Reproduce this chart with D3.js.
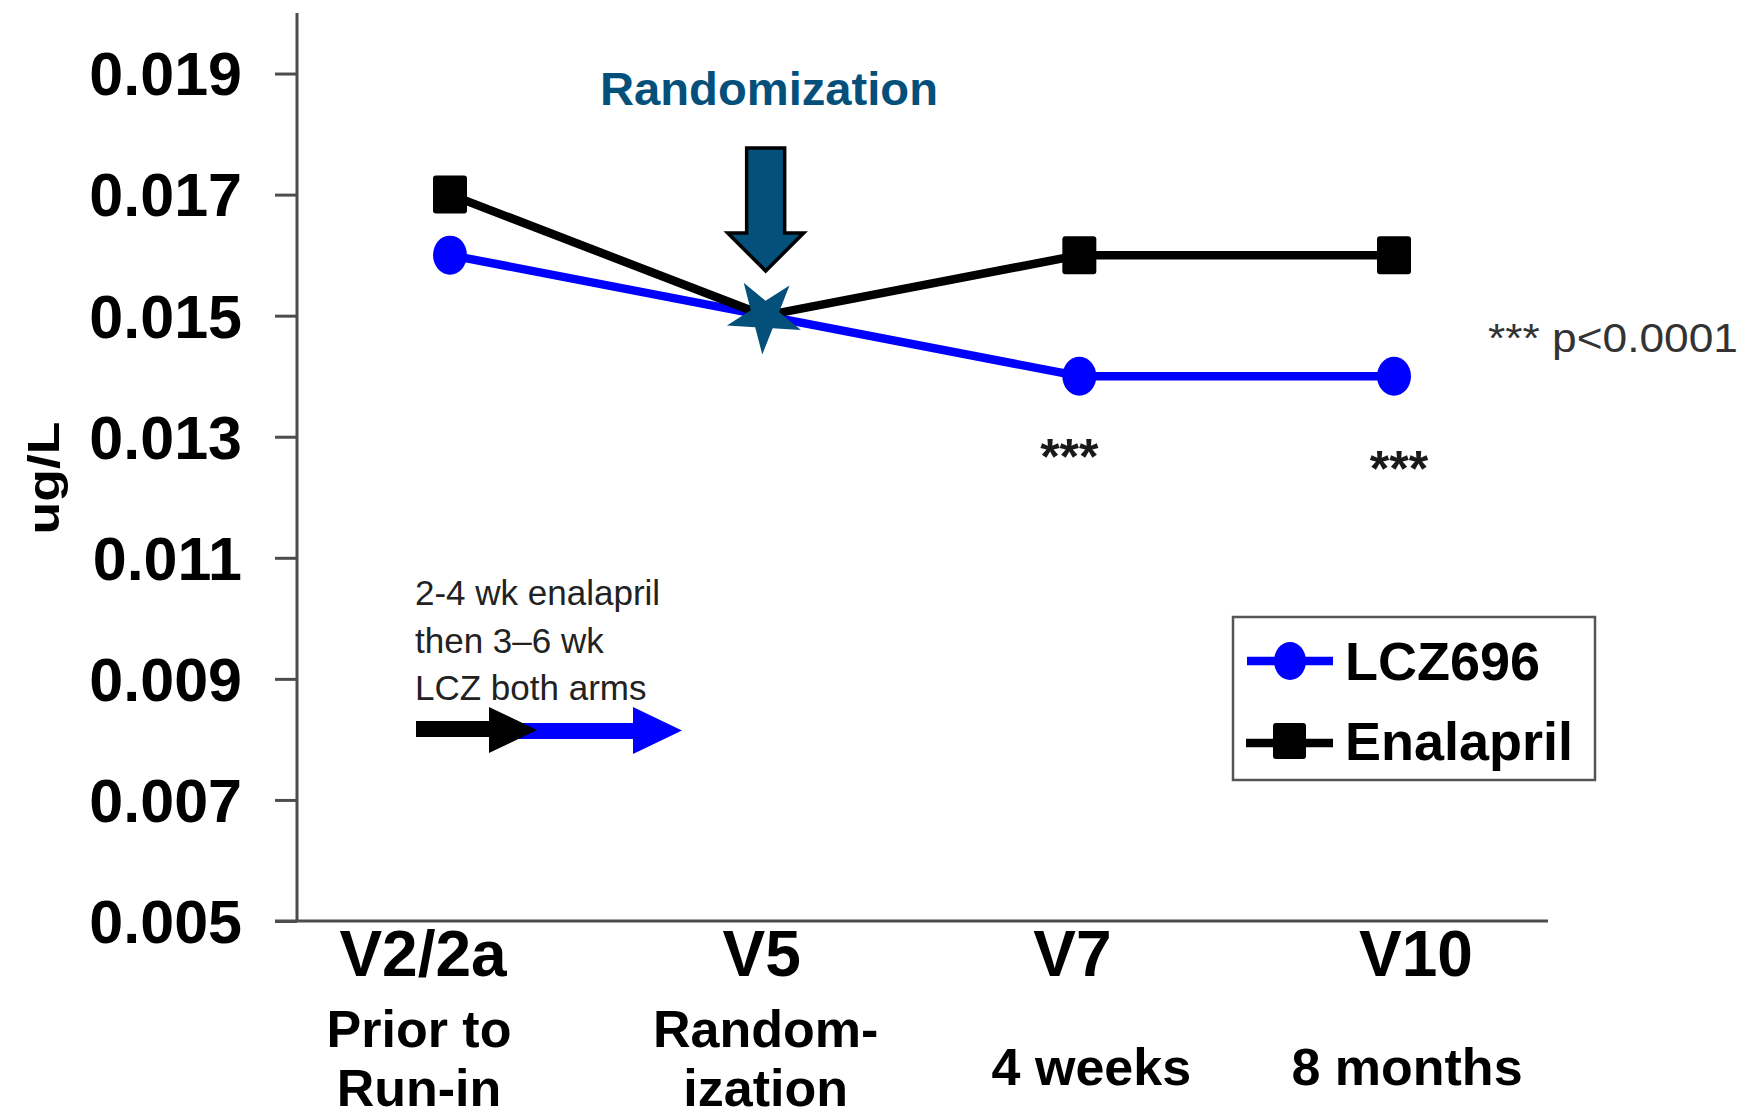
<!DOCTYPE html>
<html>
<head>
<meta charset="utf-8">
<script src="https://cdn.jsdelivr.net/npm/d3@7"></script>
<style>
  html, body { margin: 0; padding: 0; background: #fff; }
  svg { display: block; }
  text { font-family: "Liberation Sans", Arial, Helvetica, sans-serif; }
</style>
</head>
<body>
<svg id="chart" width="1761" height="1117"></svg>
<script>
// Visits along the study timeline
const visits = ["V2/2a", "V5", "V7", "V10"];
const visitNotes = [["Prior to", "Run-in"], ["Random-", "ization"], ["4 weeks"], ["8 months"]];

// Mean concentration (ug/L) per arm
const lcz696 = [0.016, 0.015, 0.014, 0.014];
const enalapril = [0.017, 0.015, 0.016, 0.016];

// Significance marks for LCZ696 vs enalapril
const significance = ["", "", "***", "***"];

// Y axis ticks
const yTicks = [0.005, 0.007, 0.009, 0.011, 0.013, 0.015, 0.017, 0.019];

const seriesNames = ["LCZ696", "Enalapril"];
const runInNote = ["2-4 wk enalapril", "then 3\u20136 wk", "LCZ both arms"];

const svg = d3.select("#chart");
const AXIS = "#4d4d4d";
const BLUE = "#0000ff";
const TEAL = "#04507a";

const x = d3.scalePoint().domain(visits).range([450, 1394]);
const y = d3.scaleLinear().domain([0.005, 0.020]).range([921, 13]);

// ---- axes ----
const yAxis = d3.axisLeft(y)
  .tickValues(yTicks)
  .tickFormat(d3.format(".3f"))
  .tickSize(22)
  .tickPadding(33);

const gy = svg.append("g").attr("transform", "translate(297,0)").call(yAxis);
gy.select(".domain").remove();
gy.selectAll(".tick line").attr("stroke", AXIS).attr("stroke-width", 3);
gy.selectAll(".tick text")
  .attr("font-size", 61).attr("font-weight", "bold").attr("fill", "#000")
  .attr("dy", "0.35em")
  .style("font-family", "'Liberation Sans', Arial, sans-serif");

svg.append("line").attr("x1", 297).attr("x2", 297).attr("y1", y(0.020)).attr("y2", y(0.005))
  .attr("stroke", AXIS).attr("stroke-width", 3);
svg.append("line").attr("x1", 275).attr("x2", 1548).attr("y1", y(0.005)).attr("y2", y(0.005))
  .attr("stroke", AXIS).attr("stroke-width", 3);

// y axis title
svg.append("text")
  .attr("transform", "translate(59,478) rotate(-90)")
  .attr("text-anchor", "middle")
  .attr("font-size", 45).attr("font-weight", "bold")
  .attr("textLength", 113).attr("lengthAdjust", "spacingAndGlyphs")
  .text("ug/L");

// visit labels
const visitDx = [-27, -3, -7, 22];
const noteDx = [-31, 1, 12, 13];
svg.append("g").selectAll("text").data(visits).join("text")
  .attr("x", (d, i) => x(d) + visitDx[i])
  .attr("y", 976)
  .attr("text-anchor", "middle")
  .attr("font-size", 64).attr("font-weight", "bold")
  .text(d => d);

// each line of the sub-labels is its own text element
visitNotes.forEach((lines, i) => {
  const base = lines.length === 2 ? 1047 : 1085;
  lines.forEach((ln, j) => {
    svg.append("text")
      .attr("x", x(visits[i]) + noteDx[i])
      .attr("y", base + j * 59)
      .attr("text-anchor", "middle")
      .attr("font-size", 52).attr("font-weight", "bold")
      .text(ln);
  });
});

// ---- series lines ----
const line = d3.line().x((d, i) => x(visits[i])).y(d => y(d));

svg.append("path").datum(lcz696).attr("d", line)
  .attr("fill", "none").attr("stroke", BLUE).attr("stroke-width", 8.5)
  .attr("stroke-linejoin", "round");
svg.append("path").datum(enalapril).attr("d", line)
  .attr("fill", "none").attr("stroke", "#000").attr("stroke-width", 8.5)
  .attr("stroke-linejoin", "round");

// ---- markers (the shared randomization visit gets a star instead) ----
svg.append("g").selectAll("ellipse").data(lcz696.map((v, i) => ({ v, i })).filter(d => d.i !== 1))
  .join("ellipse")
  .attr("cx", d => x(visits[d.i])).attr("cy", d => y(d.v))
  .attr("rx", 17).attr("ry", 19.5).attr("fill", BLUE);

svg.append("g").selectAll("rect").data(enalapril.map((v, i) => ({ v, i })).filter(d => d.i !== 1))
  .join("rect")
  .attr("x", d => x(visits[d.i]) - 17).attr("y", d => y(d.v) - 19)
  .attr("width", 34).attr("height", 38).attr("rx", 3).attr("fill", "#000");

const starR = 39;
svg.append("path")
  .attr("d", d3.symbol().type(d3.symbolStar).size(starR * starR / 0.8908130915292852)())
  .attr("transform", `translate(${x("V5")},${y(lcz696[1])}) rotate(183.5)`)
  .attr("fill", TEAL);

// significance marks
const sigDx = [0, 0, -10, 5];
const sigY = [0, 0, 474, 486];
svg.append("g").selectAll("text").data(significance.map((s, i) => ({ s, i })).filter(d => d.s))
  .join("text")
  .attr("x", d => x(visits[d.i]) + sigDx[d.i])
  .attr("y", d => sigY[d.i])
  .attr("text-anchor", "middle")
  .attr("font-size", 50).attr("font-weight", "bold").attr("fill", "#1a1a1a")
  .text(d => d.s);

svg.append("text")
  .attr("x", 1488).attr("y", 352)
  .attr("font-size", 40).attr("fill", "#333")
  .attr("textLength", 250).attr("lengthAdjust", "spacingAndGlyphs")
  .text("*** p<0.0001");

// ---- randomization annotation ----
svg.append("text")
  .attr("x", 769).attr("y", 105)
  .attr("text-anchor", "middle")
  .attr("font-size", 46).attr("font-weight", "bold").attr("fill", TEAL)
  .attr("textLength", 338).attr("lengthAdjust", "spacingAndGlyphs")
  .text("Randomization");

const ax = x("V5") + 1;
const arrowPts = [
  [ax - 19, 148], [ax + 19, 148], [ax + 19, 233], [ax + 38, 233],
  [ax, 271], [ax - 38, 233], [ax - 19, 233]
];
svg.append("path")
  .attr("d", d3.line()(arrowPts) + "Z")
  .attr("fill", TEAL).attr("stroke", "#000").attr("stroke-width", 3.5)
  .attr("stroke-linejoin", "miter");

// ---- run-in note ----
svg.append("text")
  .attr("x", 415).attr("y", 605)
  .attr("font-size", 35).attr("fill", "#222")
  .selectAll("tspan").data(runInNote).join("tspan")
    .attr("x", 415)
    .attr("dy", (d, i) => i === 0 ? 0 : 47.5)
    .text(d => d);

// blue (LCZ) arrow beneath, black (enalapril) arrow on top
svg.append("path")
  .attr("d", d3.line()([[518, 723], [633, 723], [633, 707], [682, 730.5], [633, 754], [633, 739], [518, 739]]) + "Z")
  .attr("fill", BLUE);
svg.append("path")
  .attr("d", d3.line()([[416, 721], [489, 721], [489, 707], [537, 730], [489, 753], [489, 737], [416, 737]]) + "Z")
  .attr("fill", "#000");

// ---- legend ----
const legend = svg.append("g");
legend.append("rect")
  .attr("x", 1233).attr("y", 617).attr("width", 362).attr("height", 163)
  .attr("fill", "#fff").attr("stroke", "#555").attr("stroke-width", 2.5);

legend.append("line").attr("x1", 1247).attr("x2", 1333).attr("y1", 661).attr("y2", 661)
  .attr("stroke", BLUE).attr("stroke-width", 8.5);
legend.append("ellipse").attr("cx", 1290).attr("cy", 661).attr("rx", 16).attr("ry", 19).attr("fill", BLUE);

legend.append("line").attr("x1", 1246).attr("x2", 1333).attr("y1", 743).attr("y2", 743)
  .attr("stroke", "#000").attr("stroke-width", 8.5);
legend.append("rect").attr("x", 1273).attr("y", 723).attr("width", 33).attr("height", 36)
  .attr("rx", 3).attr("fill", "#000");

legend.selectAll("text.lab").data(seriesNames).join("text")
  .attr("class", "lab")
  .attr("x", 1345)
  .attr("y", (d, i) => i === 0 ? 680 : 760)
  .attr("font-size", 54).attr("font-weight", "bold")
  .text(d => d);
</script>
</body>
</html>
